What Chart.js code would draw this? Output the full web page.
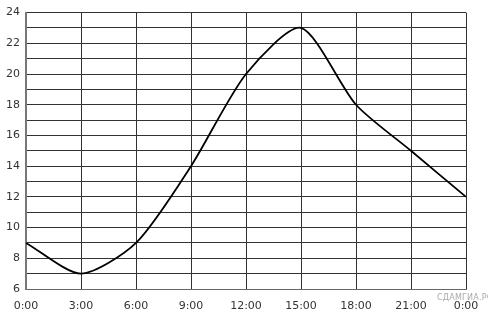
<!DOCTYPE html>
<html><head><meta charset="utf-8">
<script src="https://cdn.jsdelivr.net/npm/chart.js@4"></script>
<style>html,body{margin:0;padding:0;background:#fff;}#w{position:relative;width:488px;height:326px;}
#wm{position:absolute;left:437px;top:293px;font:8px "DejaVu Sans",sans-serif;color:#aaa;letter-spacing:0.2px;}</style>
</head><body><div id="w"><canvas id="c" width="488" height="326"></canvas><div id="wm">СДАМГИА.РФ</div></div>
<script>
const hours = [0, 3, 6, 9, 12, 15, 18, 21, 24];
const temperature = [9, 7, 9, 14, 20, 23, 18, 15, 12];
const yMin = 6, yMax = 24;
const xTickLabels = ['0:00','3:00','6:00','9:00','12:00','15:00','18:00','21:00','0:00'];

new Chart(document.getElementById('c'), {
  type: 'line',
  data: { datasets: [{ data: hours.map((h,i)=>({x:h,y:temperature[i]})), borderColor:'#000', borderWidth:1.8, pointRadius:0, tension:0.25, fill:false }] },
  options: {
    responsive:false, animation:false,
    layout:{padding:{top:12,right:22,left:0,bottom:0}},
    plugins:{legend:{display:false},tooltip:{enabled:false}},
    scales:{
      x:{type:'linear',min:0,max:24,
        afterFit:s=>{s.height=37;s.paddingRight=0;s.paddingLeft=0;},
        afterBuildTicks:s=>{s.ticks=hours.map(v=>({value:v}));},
        ticks:{stepSize:3,autoSkip:false,maxRotation:0,padding:11,color:'#333',font:{family:'DejaVu Sans',size:11},callback:(v,i)=>xTickLabels[i]},
        grid:{color:'#333',lineWidth:1,drawTicks:false},border:{color:'#666',width:1}},
      y:{min:yMin,max:yMax,
        afterFit:s=>{s.width=26;},
        ticks:{stepSize:1,autoSkip:false,padding:6,color:'#333',font:{family:'DejaVu Sans',size:11},callback:v=>(v%2===0?String(v):'')},
        grid:{color:'#333',lineWidth:1,drawTicks:false},border:{color:'#777',width:2}}
    }
  }
});
</script></body></html>
